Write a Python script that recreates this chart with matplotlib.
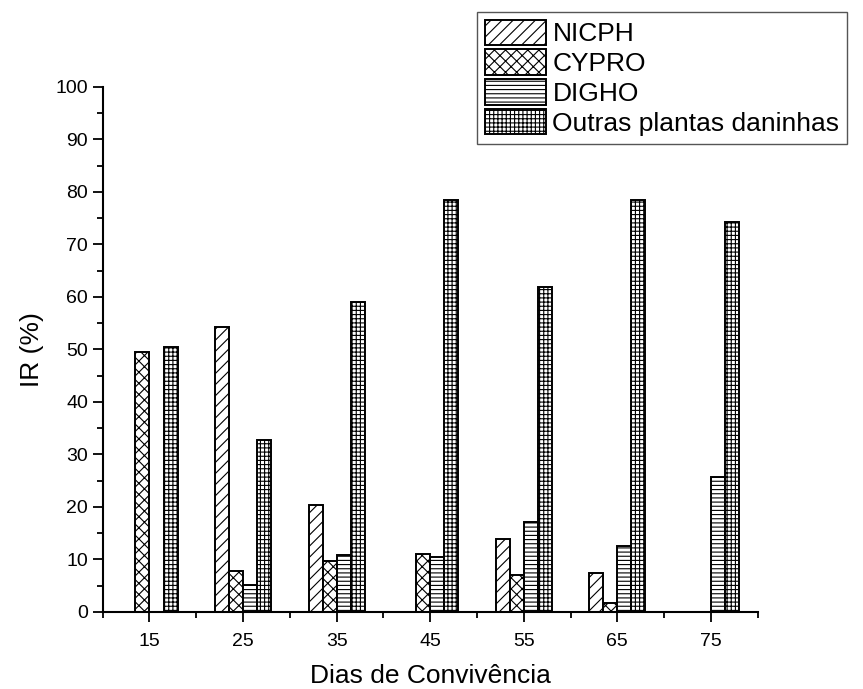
import matplotlib
matplotlib.use("Agg")
import matplotlib.pyplot as plt
import numpy as np
from matplotlib.ticker import MultipleLocator

plt.rcParams["font.family"] = ["Liberation Sans", "DejaVu Sans"]
plt.rcParams["hatch.linewidth"] = 0.8

# data
dias = [15, 25, 35, 45, 55, 65, 75]
nicph = [0, 54.3, 20.3, 0, 13.9, 7.4, 0]
cypro = [49.5, 7.7, 9.6, 11.1, 7.0, 1.7, 0]
digho = [0, 5.1, 10.9, 10.5, 17.2, 12.6, 25.7]
outras = [50.4, 32.8, 59.1, 78.5, 61.8, 78.4, 74.3]

series = {
    "NICPH": (nicph, "///"),
    "CYPRO": (cypro, "xxx"),
    "DIGHO": (digho, "----"),
    "Outras plantas daninhas": (outras, "++++"),
}

fig = plt.figure(figsize=(8.63, 6.89), dpi=100)
ax = fig.add_axes([0.119, 0.112, 0.759, 0.762])

x = np.array(dias, dtype=float)
width = 1.5
n = len(series)
for i, (label, (vals, hatch)) in enumerate(series.items()):
    offset = (i - (n - 1) / 2) * width
    ax.bar(x + offset, vals, width=width, label=label, color="white",
           edgecolor="black", linewidth=1.4, hatch=hatch)

ax.set_xlim(10, 80)
ax.set_ylim(0, 100)
ax.set_xticks(dias)
ax.xaxis.set_minor_locator(MultipleLocator(10))
ax.yaxis.set_major_locator(MultipleLocator(10))
ax.yaxis.set_minor_locator(MultipleLocator(5))

ax.spines["top"].set_visible(False)
ax.spines["right"].set_visible(False)
for s in ("left", "bottom"):
    ax.spines[s].set_linewidth(1.5)

ax.tick_params(which="major", length=7, width=1.3, labelsize=14)
ax.tick_params(which="minor", length=4, width=1.3)
ax.tick_params(axis="x", pad=8)

ax.set_xlabel("Dias de Convivência", fontsize=19, labelpad=10)
ax.set_ylabel("IR (%)", fontsize=19, labelpad=8)

leg = fig.legend(loc="upper left", bbox_to_anchor=(0.553, 0.983),
                 borderaxespad=0, fontsize=19, handlelength=2.3,
                 handleheight=1.1, handletextpad=0.25, labelspacing=0.12,
                 borderpad=0.3, fancybox=False, framealpha=1)
leg.get_frame().set_edgecolor("#555555")
leg.get_frame().set_linewidth(1.0)

fig.savefig("out.png", dpi=100)
